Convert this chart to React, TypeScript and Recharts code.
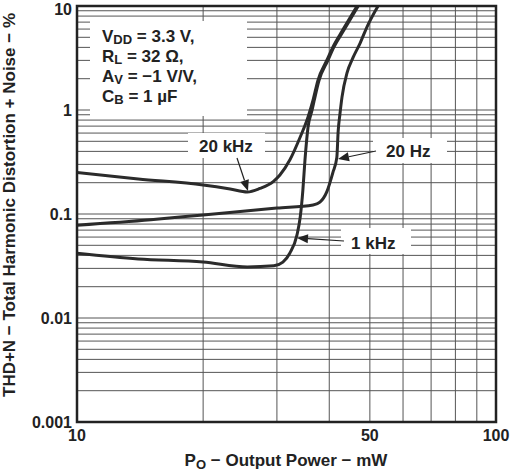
import React from 'react';
import { LineChart, Line, XAxis, YAxis, ReferenceLine } from 'recharts';

// ---- data ----
const xTicks = [10, 50, 100];
const yTicks = [0.001, 0.01, 0.1, 1, 10];
const xGrid = [20, 30, 40, 50, 60, 70, 80, 90];
const yGrid = [
  0.002, 0.003, 0.004, 0.005, 0.006, 0.007, 0.008, 0.009, 0.01,
  0.02, 0.03, 0.04, 0.05, 0.06, 0.07, 0.08, 0.09, 0.1,
  0.2, 0.3, 0.4, 0.5, 0.6, 0.7, 0.8, 0.9, 1,
  2, 3, 4, 5, 6, 7, 8, 9,
];

const power20kHz = [10, 14, 20, 23.2, 25.5, 27.3, 29.4, 30.5, 32.2, 34.1, 35.6, 36.6, 37.6, 39.5, 40.8, 43.1, 46.6];
const thd20kHz = [0.25, 0.217, 0.19, 0.174, 0.163, 0.176, 0.205, 0.237, 0.33, 0.55, 0.856, 1.25, 1.94, 3.03, 4.03, 5.9, 10];

const power1kHz = [10, 14, 20, 25.5, 29.5, 31, 32.2, 33.5, 34.1, 34.6, 35.0, 35.6, 36.4, 36.8, 37.8, 39.7, 41.0, 43.4, 46.9];
const thd1kHz = [0.042, 0.037, 0.0345, 0.031, 0.0318, 0.0345, 0.042, 0.063, 0.0935, 0.17, 0.33, 0.687, 1.0, 1.22, 1.92, 3.0, 4.0, 5.9, 10];

const power20Hz = [10, 15, 20, 30, 36.6, 38, 39.5, 40.8, 41.7, 42.0, 42.4, 42.9, 44.1, 45.6, 47.4, 49.2, 52.3];
const thd20Hz = [0.078, 0.088, 0.098, 0.114, 0.122, 0.13, 0.165, 0.25, 0.35, 0.62, 0.9, 1.33, 2.27, 3.2, 4.4, 6.28, 10];

const toRows = (p: number[], t: number[]) => p.map((x, i) => ({ p: x, thd: t[i] }));
const rows20kHz = toRows(power20kHz, thd20kHz);
const rows1kHz = toRows(power1kHz, thd1kHz);
const rows20Hz = toRows(power20Hz, thd20Hz);

// ---- styles ----
const FONT = '"Liberation Sans", Arial, sans-serif';
const INK = '#222';
const GRID = '#555';
const CURVE = '#2b2b2b';

const PLOT_L = 77;
const PLOT_R = 496;
const PLOT_T = 6;
const PLOT_B = 422;

function Arrow({ x1, y1, x2, y2 }: { x1: number; y1: number; x2: number; y2: number }) {
  const dx = x2 - x1;
  const dy = y2 - y1;
  const len = Math.hypot(dx, dy);
  const ux = dx / len;
  const uy = dy / len;
  const hl = 11;
  const hw = 4.5;
  const bx = x2 - ux * hl;
  const by = y2 - uy * hl;
  const pts = `${x2},${y2} ${bx - uy * hw},${by + ux * hw} ${bx + uy * hw},${by - ux * hw}`;
  return (
    <g>
      <line x1={x1} y1={y1} x2={bx} y2={by} stroke={INK} strokeWidth={1.2} />
      <polygon points={pts} fill={INK} />
    </g>
  );
}

function Overlay() {
  const t = { fontFamily: FONT, fontWeight: 700, fill: INK } as const;
  return (
    <svg
      width={511}
      height={474}
      style={{ position: 'absolute', left: 0, top: 0, pointerEvents: 'none' }}
    >
      {/* plot border */}
      <rect x={PLOT_L} y={PLOT_T} width={PLOT_R - PLOT_L} height={PLOT_B - PLOT_T} fill="none" stroke={INK} strokeWidth={2.5} />

      {/* conditions box */}
      <rect x={90} y={21} width={157} height={95} fill="#fff" />
      <text x={102} y={42} fontSize={17} {...t}>
        V<tspan fontSize={13} dy={2}>DD</tspan><tspan dy={-2}> = 3.3 V,</tspan>
      </text>
      <text x={102} y={62} fontSize={17} {...t}>
        R<tspan fontSize={13} dy={2}>L</tspan><tspan dy={-2}> = 32 Ω,</tspan>
      </text>
      <text x={102} y={82} fontSize={17} {...t}>
        A<tspan fontSize={13} dy={2}>V</tspan><tspan dy={-2}> = −1 V/V,</tspan>
      </text>
      <text x={102} y={102} fontSize={17} {...t}>
        C<tspan fontSize={13} dy={2}>B</tspan><tspan dy={-2}> = 1 µF</tspan>
      </text>

      {/* 20 kHz label */}
      <rect x={188} y={133} width={77} height={25} fill="#fff" />
      <text x={199} y={152} fontSize={17} {...t}>20 kHz</text>
      <Arrow x1={237} y1={158} x2={248} y2={191} />

      {/* 20 Hz label */}
      <rect x={373} y={138} width={74} height={25} fill="#fff" />
      <text x={386} y={157} fontSize={17} {...t}>20 Hz</text>
      <Arrow x1={376} y1={151} x2={338} y2={159} />

      {/* 1 kHz label */}
      <rect x={341} y={228} width={70} height={26} fill="#fff" />
      <text x={351} y={249} fontSize={17} {...t}>1 kHz</text>
      <Arrow x1={344} y1={241} x2={297} y2={238} />

      {/* axis titles */}
      <text x={286} y={466} fontSize={17} textAnchor="middle" {...t}>
        P<tspan fontSize={13} dy={3}>O</tspan><tspan dy={-3}> − Output Power − mW</tspan>
      </text>
      <text
        transform="translate(15,205) rotate(-90)"
        fontSize={17}
        textAnchor="middle"
        textLength={384}
        lengthAdjust="spacingAndGlyphs"
        {...t}
      >
        THD+N − Total Harmonic Distortion + Noise − %
      </text>
    </svg>
  );
}

export default function App() {
  const tickStyle = { fill: INK, fontSize: 16, fontWeight: 700, fontFamily: FONT };
  return (
    <div style={{ position: 'absolute', left: 0, top: 0, width: 511, height: 474, background: '#fff' }}>
      <LineChart width={511} height={474} margin={{ top: PLOT_T, right: 511 - PLOT_R, bottom: 0, left: 0 }}>
        <XAxis
          dataKey="p"
          type="number"
          scale="log"
          domain={[10, 100]}
          ticks={xTicks}
          allowDataOverflow
          height={474 - PLOT_B}
          tick={tickStyle}
          tickSize={0}
          tickMargin={8}
          axisLine={false}
          tickLine={false}
        />
        <YAxis
          dataKey="thd"
          type="number"
          scale="log"
          domain={[0.001, 10]}
          ticks={yTicks}
          allowDataOverflow
          width={PLOT_L}
          tick={tickStyle}
          tickSize={0}
          tickMargin={5}
          axisLine={false}
          tickLine={false}
          tickFormatter={(v: number) => String(v)}
        />
        {xGrid.map((v) => (
          <ReferenceLine key={`gx${v}`} x={v} stroke={GRID} strokeWidth={1} />
        ))}
        {yGrid.map((v) => (
          <ReferenceLine key={`gy${v}`} y={v} stroke={GRID} strokeWidth={1} />
        ))}
        <Line data={rows20kHz} dataKey="thd" type="monotone" stroke={CURVE} strokeWidth={3} dot={false} isAnimationActive={false} />
        <Line data={rows1kHz} dataKey="thd" type="monotone" stroke={CURVE} strokeWidth={3} dot={false} isAnimationActive={false} />
        <Line data={rows20Hz} dataKey="thd" type="monotone" stroke={CURVE} strokeWidth={3} dot={false} isAnimationActive={false} />
      </LineChart>
      <Overlay />
    </div>
  );
}
